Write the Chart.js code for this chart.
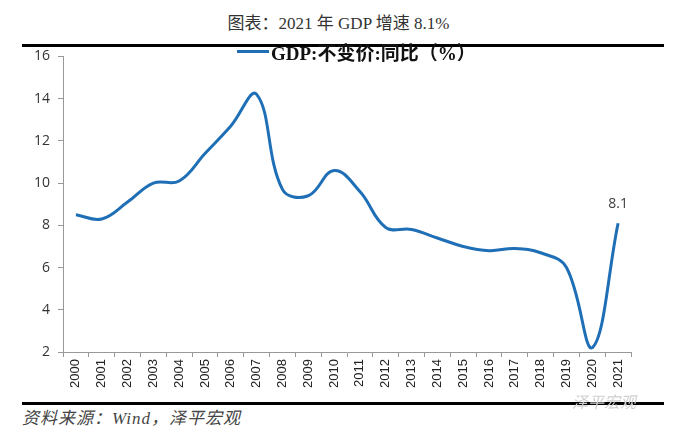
<!DOCTYPE html>
<html lang="zh">
<head>
    <meta charset="UTF-8">
    <title>图表：2021 年 GDP 增速 8.1%</title>
    <script src="https://cdn.jsdelivr.net/npm/chart.js"></script>
    <style>
        body {
            margin: 0;
            background: #fff;
            width: 677px;
            height: 433px;
            position: relative;
            overflow: hidden;
        }
        .title {
            position: absolute;
            top: 9px;
            left: 0;
            width: 677px;
            text-align: center;
            font: 17px "Liberation Serif", "Noto Sans CJK SC", serif;
            color: #333;
        }
        .rule {
            position: absolute;
            left: 22px;
            width: 642px;
            height: 3px;
            background: #000;
        }
        .legend {
            position: absolute;
            top: 38px;
            left: 237px;
            font: bold 19px "Liberation Serif", "Noto Sans CJK SC", serif;
            color: #111;
            display: flex;
            align-items: center;
        }
        .legend span.swatch {
            display: inline-block;
            width: 32px;
            height: 3px;
            background: #1f6fb6;
            margin-right: 2px;
        }
        .source {
            position: absolute;
            top: 404px;
            left: 22px;
            font: italic 17px "Liberation Serif", "Noto Sans CJK SC", serif;
            letter-spacing: 1px;
            color: #444;
        }
        .mark {
            position: absolute;
            top: 389px;
            left: 572px;
            font: italic 16px "Noto Sans CJK SC", sans-serif;
            color: #d0d0d0;
        }
        .chart-box {
            position: absolute;
            left: 0;
            top: 40px;
            width: 677px;
            height: 360px;
        }
    </style>
</head>
<body>
    <div class="title">图表：2021 年 GDP 增速 8.1%</div>
    <div class="rule" style="top:44px"></div>

    <div class="chart-box">
        <canvas id="gdpChart"></canvas>
    </div>

    <div class="legend"><span class="swatch"></span>GDP:不变价:同比（%）</div>

    <div class="rule" style="top:402px"></div>
    <div class="mark">泽平宏观</div>
    <div class="source">资料来源：Wind，泽平宏观</div>

    <script>
        const years = ['2000', '2001', '2002', '2003', '2004', '2005', '2006', '2007', '2008', '2009', '2010',
            '2011', '2012', '2013', '2014', '2015', '2016', '2017', '2018', '2019', '2020', '2021'];
        const gdpGrowth = [8.5, 8.3, 9.1, 10.0, 10.1, 11.4, 12.7, 14.2, 9.7, 9.4, 10.6,
            9.6, 7.9, 7.8, 7.4, 7.0, 6.8, 6.9, 6.7, 6.0, 2.2, 8.1];
        const yTicks = [2, 4, 6, 8, 10, 12, 14, 16];

        // label only the last point
        const lastLabel = {
            id: 'lastLabel',
            afterDatasetsDraw(chart) {
                const meta = chart.getDatasetMeta(0);
                const i = gdpGrowth.length - 1;
                const pt = meta.data[i];
                const ctx = chart.ctx;
                ctx.save();
                ctx.font = '14px "Open Sans", sans-serif';
                ctx.fillStyle = '#404040';
                ctx.textAlign = 'center';
                ctx.textBaseline = 'bottom';
                ctx.fillText(gdpGrowth[i].toFixed(1), pt.x, pt.y - 12);
                ctx.restore();
            }
        };

        new Chart(document.getElementById('gdpChart'), {
            type: 'line',
            data: {
                labels: years,
                datasets: [{
                    label: 'GDP:不变价:同比（%）',
                    data: gdpGrowth,
                    borderColor: '#1f6fb6',
                    borderWidth: 3,
                    pointRadius: 0,
                    tension: 0.4,
                    fill: false
                }]
            },
            options: {
                responsive: true,
                maintainAspectRatio: false,
                animation: false,
                layout: { padding: { top: 5, right: 46, left: 0, bottom: 0 } },
                plugins: {
                    legend: { display: false },
                    tooltip: { enabled: false }
                },
                scales: {
                    x: {
                        offset: true,
                        afterFit(scale) { scale.height = 48; },
                        grid: {
                            drawOnChartArea: false,
                            offset: true,
                            tickLength: 5,
                            color: '#999'
                        },
                        border: { color: '#999', width: 1 },
                        ticks: {
                            minRotation: 90,
                            maxRotation: 90,
                            autoSkip: false,
                            padding: 2,
                            color: '#222',
                            font: { family: '"Liberation Sans", Arial, sans-serif', size: 13 }
                        }
                    },
                    y: {
                        min: 2,
                        max: 16,
                        afterFit(scale) { scale.width = 63; },
                        afterBuildTicks(scale) { scale.ticks = yTicks.map(v => ({ value: v })); },
                        grid: {
                            drawOnChartArea: false,
                            tickLength: 5,
                            color: '#999'
                        },
                        border: { color: '#999', width: 1 },
                        ticks: {
                            padding: 8,
                            color: '#333',
                            font: { family: '"Open Sans", sans-serif', size: 14 }
                        }
                    }
                }
            },
            plugins: [lastLabel]
        });
    </script>
</body>
</html>
